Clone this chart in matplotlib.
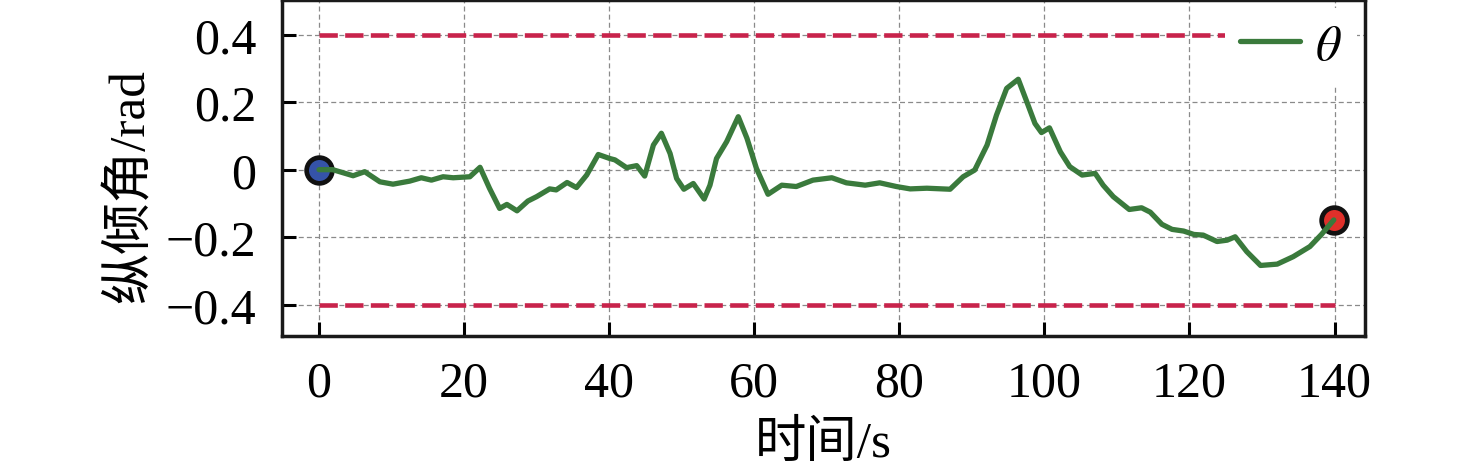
import matplotlib
matplotlib.use("Agg")
import matplotlib.pyplot as plt
import numpy as np

# ---- data ----
t = [0, 1.9, 4.7, 6.3, 8.4, 10.2, 12.5, 14.1, 15.5, 17.1, 18.5, 20.8, 22.2, 23.5,
     24.9, 25.9, 27.3, 28.8, 30.0, 31.8, 32.7, 34.2, 35.5, 36.9, 38.5, 40.1, 40.8,
     42.4, 43.8, 44.9, 46.1, 47.2, 48.4, 49.3, 50.3, 51.6, 53.1, 53.9, 54.8, 56.2,
     57.8, 59.0, 60.3, 61.9, 63.8, 65.8, 68.1, 70.7, 72.7, 75.3, 77.3, 79.6, 81.5,
     83.8, 87.0, 88.8, 90.4, 92.1, 93.4, 94.8, 96.4, 97.6, 98.7, 99.6, 100.7, 102.2,
     103.5, 105.2, 107.0, 108.1, 109.5, 111.7, 113.4, 114.6, 116.2, 117.6, 119.2,
     120.6, 121.9, 123.8, 125.2, 126.3, 127.9, 129.8, 132.1, 134.3, 136.6, 138.2, 139.9]
theta = [0.0, 0.0, -0.018, -0.006, -0.036, -0.043, -0.034, -0.024, -0.031, -0.021,
         -0.024, -0.021, 0.007, -0.055, -0.115, -0.103, -0.122, -0.093, -0.08, -0.057,
         -0.06, -0.038, -0.053, -0.016, 0.045, 0.033, 0.029, 0.006, 0.012, -0.019,
         0.073, 0.108, 0.048, -0.026, -0.058, -0.041, -0.087, -0.046, 0.033, 0.083,
         0.157, 0.093, 0.004, -0.073, -0.046, -0.05, -0.031, -0.024, -0.039, -0.046,
         -0.039, -0.05, -0.057, -0.055, -0.058, -0.021, -0.001, 0.073, 0.162, 0.241,
         0.268, 0.2, 0.137, 0.11, 0.124, 0.053, 0.009, -0.016, -0.011, -0.046, -0.08,
         -0.118, -0.113, -0.126, -0.162, -0.177, -0.182, -0.192, -0.194, -0.213,
         -0.209, -0.199, -0.243, -0.284, -0.28, -0.258, -0.228, -0.192, -0.149]
limit_upper = 0.4
limit_lower = -0.4
limit_t = [0, 140]
xticks = [0, 20, 40, 60, 80, 100, 120, 140]
yticks = [-0.4, -0.2, 0, 0.2, 0.4]
yticklabels = ["\u22120.4", "\u22120.2", "0", "0.2", "0.4"]
xlabel = "时间/s"
ylabel = "纵倾角/rad"
legend_label = r"$\theta$"

plt.rcParams['font.family'] = ['Liberation Serif', 'Noto Sans CJK SC', 'DejaVu Sans']
plt.rcParams['mathtext.fontset'] = 'stix'

W, H = 1476, 477
fig = plt.figure(figsize=(W / 100, H / 100), dpi=100)
ax = fig.add_axes([282 / W, 1 - 337.3 / H, (1365 - 282) / W, (337.3 - 1) / H])

fs = 36
lfs = 37
red = '#c8234b'
green = '#3a7a3c'

ax.plot(limit_t, [limit_upper] * 2, color=red, lw=3.3, ls=(0, (4.0, 1.6)), zorder=3)
ax.plot(limit_t, [limit_lower] * 2, color=red, lw=3.3, ls=(0, (4.0, 1.6)), zorder=3)
ax.plot(t[0], theta[0], 'o', ms=18.5, mfc='#3553a8', mec='#111111', mew=3.4, zorder=4)
ax.plot(t[-1], theta[-1], 'o', ms=18.5, mfc='#e0302a', mec='#111111', mew=3.4, zorder=4)
ax.plot(t, theta, color=green, lw=3.8, label=legend_label, zorder=5,
        solid_capstyle='round', solid_joinstyle='round')

ax.set_xlim(-5.1, 144.2)
ax.set_ylim(-0.494, 0.503)
ax.set_xticks(xticks)
ax.set_yticks(yticks)
ax.set_yticklabels(yticklabels)
ax.grid(True, color='#8a8a8a', lw=0.9, ls=(0, (4, 2.5)), zorder=1)
ax.set_axisbelow(True)

ax.tick_params(axis='both', direction='in', length=10, width=2.2, labelsize=fs,
               top=False, right=False)
ax.tick_params(axis='x', pad=17.0)
ax.tick_params(axis='y', pad=18.5)
for s in ax.spines.values():
    s.set_linewidth(2.5)
    s.set_color('#1a1a1a')

ax.set_xlabel(xlabel, fontsize=lfs, labelpad=10)
ax.set_ylabel(ylabel, fontsize=lfs)
ax.yaxis.set_label_coords(-0.118, 0.45)

leg = ax.legend(loc='upper right', bbox_to_anchor=(0.9926, 0.975), borderaxespad=0,
                fontsize=fs, frameon=True, fancybox=False, framealpha=1,
                edgecolor='none', facecolor='white', handlelength=1.2,
                handletextpad=0.3, borderpad=0.3)
leg.set_zorder(10)

fig.savefig('out.png', dpi=100)
